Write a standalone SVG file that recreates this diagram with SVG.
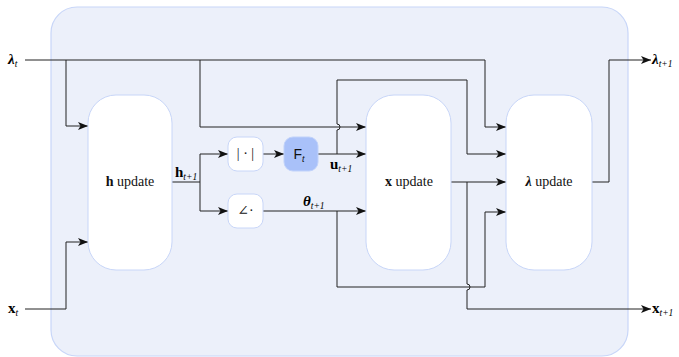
<svg xmlns="http://www.w3.org/2000/svg" width="679" height="357" viewBox="0 0 679 357">
<defs>
<style>
.bg{fill:#ecf0fa;stroke:#c8d6f8;stroke-width:1.2}
.blk{fill:#ffffff;stroke:#c8d6f8;stroke-width:1}
.fbox{fill:#a9c1f9;stroke:#c0d2fa;stroke-width:1}
.ln{fill:none;stroke:#222;stroke-width:1}
.ar{marker-end:url(#arr)}
.t{font-family:"Liberation Serif","DejaVu Serif",serif;font-size:14px;fill:#111}
.m{font-family:"Liberation Serif","DejaVu Serif",serif;font-size:15px;fill:#000;font-weight:bold}
.sub{font-size:9.5px;font-weight:normal;font-style:italic}
.s{font-family:"Liberation Sans","DejaVu Sans",sans-serif;font-size:14px;fill:#111}
</style>
<marker id="arr" viewBox="0 0 10 8" markerWidth="10" markerHeight="8" refX="10" refY="4" orient="auto" markerUnits="userSpaceOnUse">
<path d="M0,0 L10,4 L0,8 L2.5,4 Z" fill="#111"/>
</marker>
</defs>
<rect id="background" class="bg" x="51" y="7" width="577" height="349" rx="26" ry="26"/>

<g id="connectors">
<path class="ln ar" d="M25,60 H485 V127 H506"/>
<path class="ln ar" d="M66,60 V126 H88"/>
<path class="ln ar" d="M200,60 V127 H366"/>
<path class="ln ar" d="M25,309 H66 V242 H88"/>
<path class="ln" d="M172,182 H200"/>
<path class="ln ar" d="M200,182 V154 H228"/>
<path class="ln ar" d="M200,182 V211 H228"/>
<path class="ln ar" d="M263,154 H284"/>
<path class="ln ar" d="M318,154 H366"/>
<path class="ln ar" d="M263,211 H366"/>
<path class="ln ar" d="M337,154 V130 A3,3 0 0 0 337,124 V80 H467 V154 H506"/>
<path class="ln ar" d="M337,211 V287 H485 V212 H506"/>
<path class="ln ar" d="M451,182 H506"/>
<path class="ln ar" d="M467,182 V284 A3,3 0 0 1 467,290 V309 H651"/>
<path class="ln ar" d="M592,182 H609 V60 H651"/>
</g>

<g id="h_update">
<rect class="blk" x="88" y="95" width="84" height="175" rx="28" ry="28"/>
<text class="t" x="130" y="186" text-anchor="middle"><tspan font-weight="bold">h</tspan> update</text>
</g>
<g id="abs">
<rect class="blk" x="228" y="137" width="35" height="34" rx="9" ry="9"/>
<text class="t" x="245.5" y="158" text-anchor="middle" fill="#222">| · |</text>
</g>
<g id="angle">
<rect class="blk" x="228" y="194" width="35" height="34" rx="9" ry="9"/>
<text class="t" x="245.5" y="215" text-anchor="middle">∠·</text>
</g>
<g id="F_t">
<rect class="fbox" x="284" y="137" width="34" height="34" rx="9" ry="9"/>
<text class="s" x="299" y="159" text-anchor="middle">F<tspan font-size="9" font-style="italic" dy="3">t</tspan></text>
</g>
<g id="x_update">
<rect class="blk" x="366" y="95" width="85" height="175" rx="28" ry="28"/>
<text class="t" x="409" y="186" text-anchor="middle"><tspan font-weight="bold">x</tspan> update</text>
</g>
<g id="lambda_update">
<rect class="blk" x="506" y="95" width="86" height="175" rx="28" ry="28"/>
<text class="t" x="549" y="186" text-anchor="middle"><tspan font-weight="bold" font-style="italic">λ</tspan> update</text>
</g>

<g id="labels">
<text class="m" x="8" y="64"><tspan font-style="italic">λ</tspan><tspan class="sub" dy="3">t</tspan></text>
<text class="m" x="8" y="313">x<tspan class="sub" dy="3">t</tspan></text>
<text class="m" x="175" y="177">h<tspan class="sub" dy="3">t+1</tspan></text>
<text class="m" x="330" y="169">u<tspan class="sub" dy="3">t+1</tspan></text>
<text class="m" x="303" y="206"><tspan font-style="italic">θ</tspan><tspan class="sub" dy="3">t+1</tspan></text>
<text class="m" x="652" y="64"><tspan font-style="italic">λ</tspan><tspan class="sub" dy="3">t+1</tspan></text>
<text class="m" x="652" y="313">x<tspan class="sub" dy="3">t+1</tspan></text>
</g>
</svg>
